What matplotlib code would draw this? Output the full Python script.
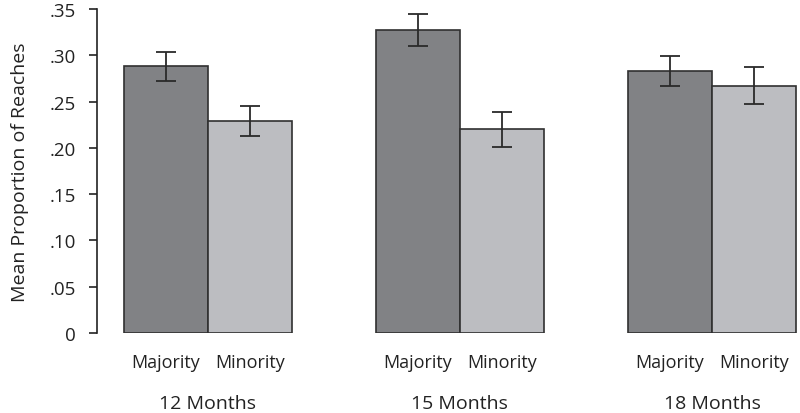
import numpy as np
import matplotlib
matplotlib.use("Agg")
import matplotlib.pyplot as plt
import matplotlib.transforms as mtransforms

# values
ages = ["12 Months", "15 Months", "18 Months"]
conditions = ["Majority", "Minority"]
majority_mean = [0.288, 0.327, 0.283]
majority_err = [0.016, 0.017, 0.016]
minority_mean = [0.229, 0.220, 0.267]
minority_err = [0.016, 0.019, 0.020]
y_ticks = [0, 0.05, 0.10, 0.15, 0.20, 0.25, 0.30, 0.35]
y_tick_labels = ["0", ".05", ".10", ".15", ".20", ".25", ".30", ".35"]

plt.rcParams["font.family"] = ["Open Sans", "DejaVu Sans"]

fig = plt.figure(figsize=(8, 4.14), dpi=100)
ax = fig.add_axes([0.121, 0.193, 0.879, 0.783])

x = np.arange(len(ages))
w = 1 / 3
err_kw = dict(ecolor="#2a2a2a", elinewidth=1.3, capsize=7.5, capthick=1.3)
ax.bar(x - w / 2, majority_mean, w, yerr=majority_err, color="#818285",
       edgecolor="#303030", linewidth=1.2, error_kw=err_kw)
ax.bar(x + w / 2, minority_mean, w, yerr=minority_err, color="#bcbdc1",
       edgecolor="#303030", linewidth=1.2, error_kw=err_kw)

ax.set_xlim(-0.44, 2.349)
ax.set_ylim(0, 0.35)
ax.set_yticks(y_ticks)
ax.set_yticklabels(y_tick_labels)
ax.tick_params(axis="y", length=6, width=1.2, pad=9, labelsize=13.5, colors="#222222")

# bar labels as x ticks, group labels as text below
bar_pos = np.concatenate([x - w / 2, x + w / 2])
bar_lab = [conditions[0]] * len(ages) + [conditions[1]] * len(ages)
ax.set_xticks(bar_pos)
ax.set_xticklabels(bar_lab)
ax.tick_params(axis="x", length=0, pad=14, labelsize=13, colors="#222222")

trans = mtransforms.blended_transform_factory(ax.transData, fig.transFigure)
for xi, age in zip(x, ages):
    ax.text(xi, 0.024, age, transform=trans, ha="center", va="center",
            fontsize=14, color="#222222")

ax.set_ylabel("Mean Proportion of Reaches", fontsize=14, color="#222222", labelpad=15)

for side in ["top", "right", "bottom"]:
    ax.spines[side].set_visible(False)
ax.spines["left"].set_linewidth(1.2)
ax.spines["left"].set_color("#222222")

fig.savefig("out.png", dpi=100)
